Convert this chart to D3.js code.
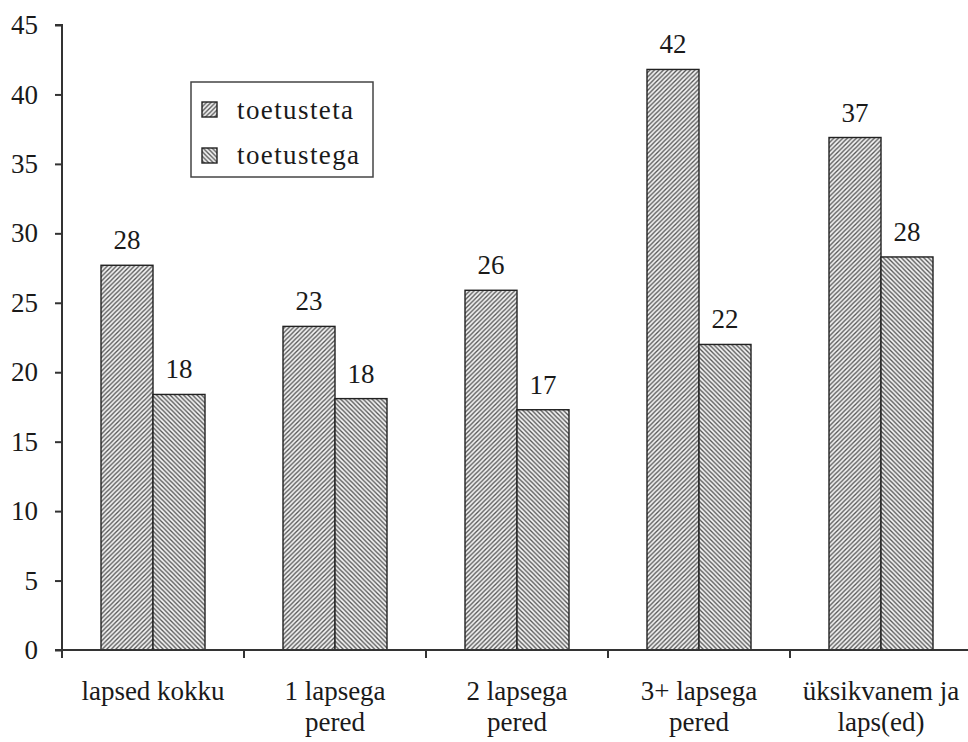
<!DOCTYPE html>
<html><head><meta charset="utf-8">
<script src="https://cdn.jsdelivr.net/npm/d3@7"></script>
<style>body{margin:0;background:#fff}svg{display:block}</style>
</head><body>
<svg id="c" width="968" height="742"></svg>
<script>
const categories = [["lapsed kokku"],["1 lapsega","pered"],["2 lapsega","pered"],["3+ lapsega","pered"],["üksikvanem ja","laps(ed)"]];
const seriesNames = ["toetusteta","toetustega"];
const valuesToetusteta = [27.7, 23.3, 25.9, 41.8, 36.9];
const valuesToetustega = [18.4, 18.1, 17.3, 22.0, 28.3];
const labelsToetusteta = ["28","23","26","42","37"];
const labelsToetustega = ["18","18","17","22","28"];
const yTicks = [0,5,10,15,20,25,30,35,40,45];

const svg = d3.select("#c");
const font = "'Liberation Serif', 'Times New Roman', serif";
const fs = 27;
const defs = svg.append("defs");
function hatch(id, dir){
  const p = defs.append("pattern").attr("id",id).attr("patternUnits","userSpaceOnUse")
    .attr("width",4.5).attr("height",4.5);
  p.append("rect").attr("width",4.5).attr("height",4.5).attr("fill","#f3f3f3");
  const d = dir>0 ? "M-1,5.5 L5.5,-1 M-1,1 L1,-1 M3.5,5.5 L5.5,3.5" : "M-1,-1 L5.5,5.5 M3.5,-1 L5.5,1 M-1,3.5 L1,5.5";
  p.append("path").attr("d",d).attr("stroke","#555").attr("stroke-width",1.35);
}
hatch("h1",1); hatch("h2",-1);

const x0 = 62, x1 = 972, yTop = 25, yBot = 650;
const x = d3.scaleBand().domain(d3.range(categories.length)).range([x0,x1]);
const y = d3.scaleLinear().domain([0,45]).range([yBot,yTop]);
const barW = 52;

const series = [
  {vals: valuesToetusteta, labels: labelsToetusteta, fill:"url(#h1)", off:-barW},
  {vals: valuesToetustega, labels: labelsToetustega, fill:"url(#h2)", off:0}
];
series.forEach(s=>{
  const g = svg.append("g");
  g.selectAll("rect").data(s.vals).join("rect")
    .attr("x",(d,i)=>x(i)+x.bandwidth()/2+s.off)
    .attr("y",d=>y(d)).attr("width",barW).attr("height",d=>y(0)-y(d))
    .attr("fill",s.fill).attr("stroke","#222").attr("stroke-width",1.4);
  g.selectAll("text").data(s.vals).join("text")
    .attr("x",(d,i)=>x(i)+x.bandwidth()/2+s.off+barW/2)
    .attr("y",d=>y(d)-16)
    .attr("text-anchor","middle").attr("font-family",font).attr("font-size",fs).attr("fill","#1a1a1a")
    .text((d,i)=>s.labels[i]);
});

// y axis
const ya = svg.append("g").attr("transform",`translate(${x0},0)`)
  .call(d3.axisLeft(y).tickValues(yTicks).tickSize(7).tickPadding(17).tickFormat(d3.format("d")));
ya.select(".domain").attr("stroke","#333").attr("stroke-width",2).attr("d",`M-7,${yTop}H0V${yBot}`);
ya.selectAll(".tick line").attr("stroke","#333").attr("stroke-width",2);
ya.selectAll(".tick text").attr("font-family",font).attr("font-size",fs).attr("fill","#1a1a1a");

// x axis
const xa = svg.append("g").attr("transform",`translate(0,${yBot})`);
xa.append("line").attr("x1",x0-7).attr("x2",x1).attr("y1",0).attr("y2",0).attr("stroke","#333").attr("stroke-width",2);
const tickPos = d3.range(categories.length+1).map(i=> i<categories.length ? x(i) : x1);
xa.selectAll("line.t").data(tickPos).join("line").attr("class","t")
  .attr("x1",d=>d).attr("x2",d=>d).attr("y1",0).attr("y2",8).attr("stroke","#333").attr("stroke-width",2);
categories.forEach((lines,i)=>{
  const t = xa.append("text").attr("text-anchor","middle").attr("font-family",font).attr("font-size",fs).attr("fill","#1a1a1a")
    .attr("transform",`translate(${x(i)+x.bandwidth()/2},50)`);
  lines.forEach((l,j)=>t.append("tspan").attr("x",0).attr("dy",j?31:0).text(l));
});

// legend
const lg = svg.append("g").attr("transform","translate(191,82)");
lg.append("rect").attr("width",182).attr("height",95).attr("fill","#fff").attr("stroke","#444").attr("stroke-width",1.5);
seriesNames.forEach((n,i)=>{
  lg.append("rect").attr("x",11).attr("y",20+i*46).attr("width",15).attr("height",15)
    .attr("fill",i?"url(#h2)":"url(#h1)").attr("stroke","#222").attr("stroke-width",1.4);
  lg.append("text").attr("x",46).attr("y",37+i*45).attr("font-family",font).attr("font-size",fs)
    .attr("letter-spacing",1.4).attr("fill","#1a1a1a").text(n);
});
</script>
</body></html>
